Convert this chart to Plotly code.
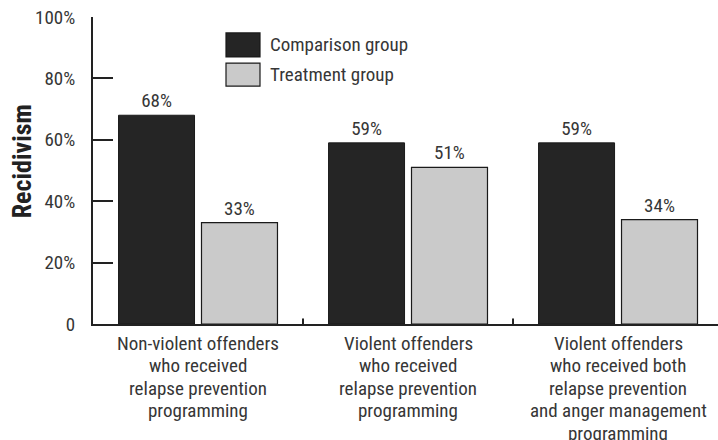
import plotly.graph_objects as go

categories = [
    "Non-violent offenders<br>who received<br>relapse prevention<br>programming",
    "Violent offenders<br>who received<br>relapse prevention<br>programming",
    "Violent offenders<br>who received both<br>relapse prevention<br>and anger management<br>programming",
]
series_names = ["Comparison group", "Treatment group"]
comparison = [68, 59, 59]
treatment = [33, 51, 34]
y_tickvals = [0, 20, 40, 60, 80, 100]
y_ticktext = ["0", "20%", "40%", "60%", "80%", "100%"]
y_title = "Recidivism"

FONT = "Liberation Sans Narrow, Arial Narrow, Roboto Condensed, Liberation Sans, sans-serif"
TXT = "#363636"
DARK = "#252525"
LIGHT = "#cacaca"
FS = 19

xpos = list(range(len(categories)))

fig = go.Figure()
fig.add_trace(go.Bar(
    x=xpos, y=comparison, name=series_names[0],
    marker=dict(color=DARK, line=dict(color="#1a1a1a", width=1)),
    texttemplate="%{y}%", textposition="outside",
    textfont=dict(family=FONT, size=FS, color=TXT), cliponaxis=False,
))
fig.add_trace(go.Bar(
    x=xpos, y=treatment, name=series_names[1],
    marker=dict(color=LIGHT, line=dict(color="#1a1a1a", width=1.2)),
    texttemplate="%{y}%", textposition="outside",
    textfont=dict(family=FONT, size=FS, color=TXT), cliponaxis=False,
))

# custom legend with large swatches
legend_colors = [DARK, LIGHT]
sw_y = [(0.948, 0.870), (0.850, 0.775)]
for i, name in enumerate(series_names):
    y1, y0 = sw_y[i]
    fig.add_shape(type="rect", xref="paper", yref="paper",
                  x0=0.2128, x1=0.2672, y0=y0, y1=y1,
                  fillcolor=legend_colors[i], line=dict(color="#1a1a1a", width=1.2))
    fig.add_annotation(xref="paper", yref="paper", x=0.280, y=(y0 + y1) / 2,
                       text=name, showarrow=False, xanchor="left", yanchor="middle",
                       font=dict(family=FONT, size=FS, color=TXT))

# y-axis title
fig.add_annotation(xref="paper", yref="paper", x=-0.1136, y=0.53,
                   text="<b>" + y_title + "</b>", textangle=-90, showarrow=False,
                   xanchor="center", yanchor="middle",
                   font=dict(family=FONT, size=26, color="#222222"))

# category labels, one annotation per line for tight line spacing
for xi, cat in zip(xpos, categories):
    for j, line in enumerate(cat.split("<br>")):
        fig.add_annotation(xref="x", yref="paper", x=xi, y=0,
                           text=line, showarrow=False,
                           xanchor="center", yanchor="middle",
                           yshift=-(19 + 22.5 * j),
                           font=dict(family=FONT, size=FS, color=TXT))

fig.update_layout(
    width=718, height=440,
    margin=dict(l=93, r=0, t=17, b=116, autoexpand=False),
    paper_bgcolor="white", plot_bgcolor="white",
    barmode="group", bargap=0.21, bargroupgap=0.084,
    showlegend=False,
    font=dict(family=FONT, size=16, color=TXT),
    xaxis=dict(
        range=[-0.5, 2.476], tickvals=xpos, showticklabels=False,
        showline=True, linecolor="#222222", linewidth=2,
        showgrid=False, zeroline=False, automargin=False,
        ticks="",
    ),
    yaxis=dict(
        range=[0, 100], tickvals=y_tickvals, ticktext=y_ticktext,
        showline=True, linecolor="#222222", linewidth=2,
        showgrid=False, zeroline=False, automargin=False,
        ticks="inside", ticklen=20, tickwidth=2, tickcolor="#222222",
        ticklabelstandoff=12,
        tickfont=dict(family=FONT, size=FS, color=TXT),
    ),
)

# small boundary ticks on x axis between categories
for b in [0.5, 1.5]:
    fig.add_shape(type="line", xref="x", yref="paper", x0=b, x1=b, y0=0, y1=0.018,
                  line=dict(color="#222222", width=2))

fig.write_html(
    "out.html",
    config={"displayModeBar": False},
    post_script="document.body.style.margin='0';document.body.style.padding='0';",
)
